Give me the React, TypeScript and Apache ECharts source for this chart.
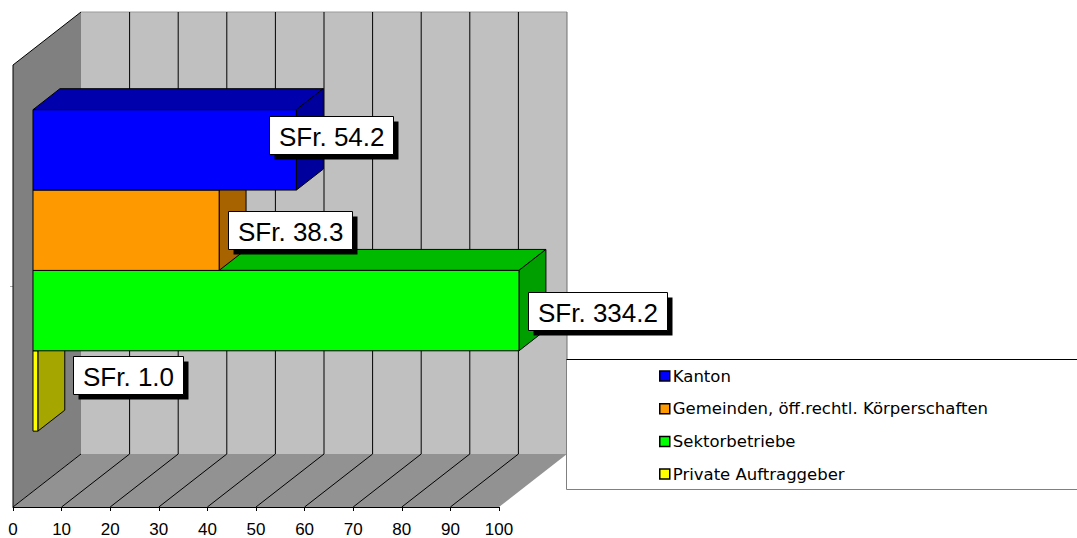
import React, { useEffect, useRef } from "react";
import * as echarts from "echarts";

// ---- data ----
const categories: string[] = [""];
const seriesNames: string[] = [
  "Kanton",
  "Gemeinden, öff.rechtl. Körperschaften",
  "Sektorbetriebe",
  "Private Auftraggeber",
];
const seriesValues: number[] = [54.2, 38.3, 334.2, 1.0];
const xTickValues: number[] = [0, 10, 20, 30, 40, 50, 60, 70, 80, 90, 100];
const AXIS_MIN = 0;
const AXIS_MAX = 100;
const AXIS_STEP = 10;

// ---- styles ----
const frontColors = ["#0000FF", "#FF9900", "#00FF00", "#FFFF00"];
const topColors = ["#0000AD", "#BD7100", "#00BA00", "#BDBD00"];
const sideColors = ["#00009C", "#A66300", "#009F00", "#A6A600"];
const labelNudges: [number, number][] = [
  [-36, -15],
  [0, 0],
  [0, 0],
  [26, -16],
];
const DEPTH: [number, number] = [68, -53];
const BAR_FRONT = 0.294;
const BAR_BACK = 0.69;
const GAP_RATIO = 1.5;
const FONT = '"Liberation Sans", Arial, Helvetica, sans-serif';
const LEGEND_FONT = '"DejaVu Sans", Verdana, sans-serif';
const LABEL_FONT = "26px " + FONT;

let measureCtx: CanvasRenderingContext2D | null = null;
function measure(text: string, font: string): number {
  if (!measureCtx) {
    const c = document.createElement("canvas");
    measureCtx = c.getContext("2d");
  }
  if (!measureCtx) return text.length * 14;
  measureCtx.font = font;
  return measureCtx.measureText(text).width;
}

function wallsRender(params: any, api: any) {
  const t = api.value(0);
  const c0 = api.coord([AXIS_MIN, 0]);
  const cMax = api.coord([AXIS_MAX, 0]);
  const ct = api.coord([t, 0]);
  const bandH = api.size([0, 1])[1];
  const yt = c0[1] - bandH / 2;
  const yb = c0[1] + bandH / 2;
  const x0 = c0[0];
  const x1 = cMax[0];
  const [dx, dy] = DEPTH;
  const children: any[] = [];
  if (params.dataIndex === 0) {
    children.push({
      type: "polygon",
      shape: { points: [[x0, yt], [x0 + dx, yt + dy], [x0 + dx, yb + dy], [x0, yb]] },
      style: { fill: "#808080", stroke: "none" },
    });
    children.push({
      type: "polygon",
      shape: {
        points: [[x0 + dx, yt + dy], [x1 + dx, yt + dy], [x1 + dx, yb + dy], [x0 + dx, yb + dy]],
      },
      style: { fill: "#C0C0C0", stroke: "none" },
    });
    children.push({
      type: "polygon",
      shape: { points: [[x0, yb], [x1, yb], [x1 + dx, yb + dy], [x0 + dx, yb + dy]] },
      style: { fill: "#929292", stroke: "none" },
    });
    children.push({
      type: "line",
      shape: { x1: x0, y1: yt, x2: x0 + dx, y2: yt + dy },
      style: { stroke: "#000", lineWidth: 1 },
    });
    children.push({
      type: "line",
      shape: { x1: x0 + dx, y1: yt + dy, x2: x1 + dx, y2: yt + dy },
      style: { stroke: "#9a9a9a", lineWidth: 1 },
    });
    children.push({
      type: "line",
      shape: { x1: x0, y1: yt, x2: x0, y2: yb },
      style: { stroke: "#000", lineWidth: 1 },
    });
  }
  const xt = ct[0];
  if (t > AXIS_MIN && t < AXIS_MAX) {
    children.push({
      type: "line",
      shape: { x1: xt + dx, y1: yt + dy, x2: xt + dx, y2: yb + dy },
      style: { stroke: "#000", lineWidth: 1 },
    });
  }
  if (t >= AXIS_MAX) {
    children.push({
      type: "line",
      shape: { x1: xt + dx, y1: yt + dy, x2: xt + dx, y2: yb + dy },
      style: { stroke: "#707070", lineWidth: 1 },
    });
  }
  if (t < AXIS_MAX) {
    children.push({
      type: "line",
      shape: { x1: xt, y1: yb, x2: xt + dx, y2: yb + dy },
      style: { stroke: "#000", lineWidth: 1 },
    });
  }
  return { type: "group", children };
}

function makeBarRender(slot: number) {
  return (params: any, api: any) => {
    const v = api.value(0);
    const shown = Math.min(v, AXIS_MAX);
    const c0 = api.coord([AXIS_MIN, 0]);
    const ce = api.coord([shown, 0]);
    const bandH = api.size([0, 1])[1];
    const n = seriesNames.length;
    const barH = bandH / (n + GAP_RATIO);
    const top = c0[1] - bandH / 2 + (GAP_RATIO / 2) * barH + slot * barH;
    const fx = DEPTH[0] * BAR_FRONT;
    const fy = DEPTH[1] * BAR_FRONT;
    const bx = DEPTH[0] * BAR_BACK;
    const by = DEPTH[1] * BAR_BACK;
    const xs = c0[0];
    const xe = ce[0];
    const stroke = { stroke: "#000", lineWidth: 1, lineJoin: "round" };
    const children: any[] = [
      {
        type: "polygon",
        shape: {
          points: [
            [xs + fx, top + fy],
            [xs + bx, top + by],
            [xe + bx, top + by],
            [xe + fx, top + fy],
          ],
        },
        style: { fill: topColors[slot], ...stroke },
      },
      {
        type: "polygon",
        shape: {
          points: [
            [xe + fx, top + fy],
            [xe + bx, top + by],
            [xe + bx, top + barH + by],
            [xe + fx, top + barH + fy],
          ],
        },
        style: { fill: sideColors[slot], ...stroke },
      },
      {
        type: "polygon",
        shape: {
          points: [
            [xs + fx, top + fy],
            [xe + fx, top + fy],
            [xe + fx, top + barH + fy],
            [xs + fx, top + barH + fy],
          ],
        },
        style: { fill: frontColors[slot], ...stroke },
      },
    ];
    const txt = "SFr. " + v.toFixed(1);
    const padX = 9.5;
    const boxH = 38;
    const tw = measure(txt, LABEL_FONT);
    const boxW = Math.round(tw + 2 * padX);
    const boxLeft = Math.round(xe + fx + 9 + labelNudges[slot][0]) + 0.5;
    const cy = top + fy + barH / 2 + labelNudges[slot][1];
    const boxTop = Math.round(cy - boxH / 2) + 0.5;
    children.push({
      type: "rect",
      shape: { x: boxLeft + 5, y: boxTop + 5, width: boxW, height: boxH },
      style: { fill: "#000", stroke: "none" },
    });
    children.push({
      type: "rect",
      shape: { x: boxLeft, y: boxTop, width: boxW, height: boxH },
      style: { fill: "#fff", stroke: "#000", lineWidth: 1 },
    });
    children.push({
      type: "text",
      x: boxLeft + padX,
      y: boxTop + boxH / 2 + 1,
      style: {
        text: txt,
        font: LABEL_FONT,
        fill: "#000",
        align: "left",
        verticalAlign: "middle",
        textAlign: "left",
        textVerticalAlign: "middle",
      },
    });
    return { type: "group", children };
  };
}

export default function App() {
  const ref = useRef<HTMLDivElement>(null);
  useEffect(() => {
    if (!ref.current) return;
    const chart = echarts.init(ref.current, undefined, { renderer: "svg" });
    const barSeries = seriesNames.map((name, i) => ({
      type: "custom",
      name,
      z: 10 - i,
      renderItem: makeBarRender(i),
      itemStyle: { color: frontColors[i] },
      data: [[seriesValues[i], 0]],
      encode: { x: 0, y: 1 },
    }));
    chart.setOption({
      animation: false,
      color: frontColors,
      grid: { left: 13, top: 65, width: 486, height: 443, containLabel: false },
      xAxis: {
        type: "value",
        min: AXIS_MIN,
        max: AXIS_MAX,
        interval: AXIS_STEP,
        axisLine: { show: true, lineStyle: { color: "#000", width: 1 } },
        axisTick: { show: true, length: 4, lineStyle: { color: "#000" } },
        axisLabel: {
          color: "#000",
          fontSize: 17,
          fontFamily: FONT,
          margin: 14,
          formatter: (v: number) => String(v),
        },
        splitLine: { show: false },
      },
      yAxis: {
        type: "category",
        data: categories,
        axisLine: { show: false },
        axisTick: { show: true, alignWithLabel: true, length: 3, lineStyle: { color: "#aaa" } },
        axisLabel: { show: false },
        splitLine: { show: false },
      },
      legend: {
        show: true,
        orient: "vertical",
        left: 659,
        top: 367,
        padding: 0,
        itemGap: 14.7,
        itemWidth: 10,
        itemHeight: 10,
        icon: "rect",
        selectedMode: false,
        z: 20,
        itemStyle: { borderColor: "#000", borderWidth: 1.5 },
        textStyle: {
          color: "#000",
          fontSize: 16.5,
          lineHeight: 18,
          fontFamily: LEGEND_FONT,
          padding: [0, 0, 0, -2],
        },
        data: seriesNames,
      },
      graphic: [
        {
          type: "rect",
          z: 15,
          shape: { x: 566.5, y: 359.5, width: 520, height: 130 },
          style: { fill: "#fff", stroke: "#808080", lineWidth: 1 },
        },
        {
          type: "line",
          z: 16,
          shape: { x1: 566.5, y1: 359.5, x2: 1077, y2: 359.5 },
          style: { stroke: "#000", lineWidth: 1 },
        },
      ],
      series: [
        {
          type: "custom",
          name: "__walls",
          z: 1,
          silent: true,
          renderItem: wallsRender,
          data: xTickValues.map((t) => [t, 0]),
          encode: { x: 0, y: 1 },
        },
        ...barSeries,
      ],
    });
    return () => chart.dispose();
  }, []);
  return (
    <div
      ref={ref}
      style={{ position: "fixed", left: 0, top: 0, width: 1077, height: 538, background: "#fff" }}
    />
  );
}
